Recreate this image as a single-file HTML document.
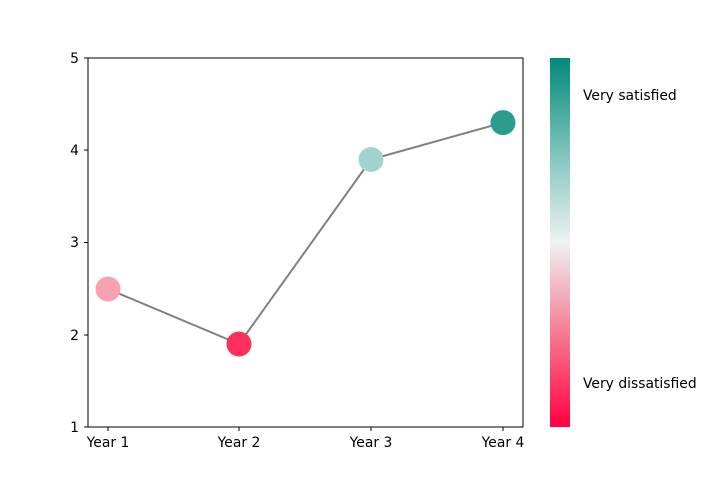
<!DOCTYPE html>
<html><head><meta charset="utf-8"><style>body{margin:0;background:#fff}</style></head><body>
<svg width="702" height="480" xmlns="http://www.w3.org/2000/svg" font-family="DejaVu Sans, Liberation Sans, sans-serif" font-size="13.9">
<defs><linearGradient id="g" x1="0" y1="1" x2="0" y2="0">
<stop offset="0" stop-color="#ff0040"/>
<stop offset="0.25" stop-color="#f67a92"/>
<stop offset="0.5" stop-color="#eef2f2"/>
<stop offset="0.75" stop-color="#7cc3b9"/>
<stop offset="1" stop-color="#00897b"/>
</linearGradient></defs>
<rect x="550" y="58" width="20" height="369" fill="url(#g)"/>
<text x="583" y="100">Very satisfied</text>
<text x="583" y="388">Very dissatisfied</text>
<polyline points="108,289 239,344 371,159.5 503,122.6" fill="none" stroke="#808080" stroke-width="2"/>
<circle cx="108" cy="289" r="12.5" fill="#f7a1b2"/>
<circle cx="239" cy="344" r="12.5" fill="#fc305a"/>
<circle cx="371" cy="159.5" r="12.5" fill="#a1d3cf"/>
<circle cx="503" cy="122.6" r="12.5" fill="#2a9d8f"/>
<rect x="88" y="58" width="435" height="369" fill="none" stroke="#000" stroke-width="1"/>
<g stroke="#000">
<line x1="84" y1="58" x2="88" y2="58"/><line x1="84" y1="150" x2="88" y2="150"/><line x1="84" y1="242.5" x2="88" y2="242.5"/><line x1="84" y1="335" x2="88" y2="335"/><line x1="84" y1="427" x2="88" y2="427"/>
<line x1="108" y1="427" x2="108" y2="431"/><line x1="239" y1="427" x2="239" y2="431"/><line x1="371" y1="427" x2="371" y2="431"/><line x1="503" y1="427" x2="503" y2="431"/>
</g>
<g text-anchor="end"><text x="79" y="63">5</text><text x="79" y="155">4</text><text x="79" y="247">3</text><text x="79" y="340">2</text><text x="79" y="432">1</text></g>
<g text-anchor="middle"><text x="108" y="447">Year 1</text><text x="239" y="447">Year 2</text><text x="371" y="447">Year 3</text><text x="503" y="447">Year 4</text></g>
</svg>
</body></html>
